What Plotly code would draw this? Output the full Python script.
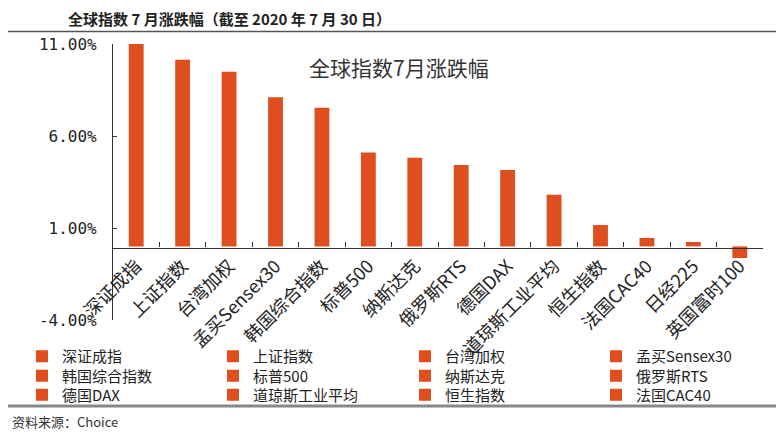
import plotly.graph_objects as go

categories = ["深证成指", "上证指数", "台湾加权", "孟买Sensex30", "韩国综合指数", "标普500",
              "纳斯达克", "俄罗斯RTS", "德国DAX", "道琼斯工业平均", "恒生指数", "法国CAC40",
              "日经225", "英国富时100"]
values = [11.02, 10.15, 9.49, 8.10, 7.54, 5.11, 4.82, 4.42, 4.15, 2.81, 1.16, 0.46, 0.24, -0.63]
ytick_vals = [11, 6, 1, -4]
ytick_text = ["11.00%", "6.00%", "1.00%", "-4.00%"]
legend_count = 12

title_text = "全球指数 7 月涨跌幅（截至 2020 年 7 月 30 日）"
inner_title = "全球指数7月涨跌幅"
source_text = "资料来源：Choice"

BAR = "#DF4E1E"
OFF = 8  # page body margin in the browser
W_FIG, H_FIG = 784 - OFF, 438 - OFF
# plot area in screenshot pixels
L, R, T, B = 113 - OFF, 763 - OFF, 44 - OFF, 320 - OFF
PW, PH = R - L, B - T


def px_x(p):
    return (p - OFF - L) / PW


def px_y(p):
    return (B - (p - OFF)) / PH


fig = go.Figure()

col_left = [22, 213, 405, 596]
row_mid = [356.5, 376, 395]

for i, (c, v) in enumerate(zip(categories, values)):
    in_legend = i < legend_count
    lid = "legend" if i == 0 else f"legend{i + 1}"
    fig.add_trace(go.Bar(
        x=[c], y=[v], name=c, width=0.32,
        marker=dict(color=BAR, line=dict(width=0)),
        showlegend=in_legend,
        legend=lid if in_legend else None,
    ))

layout_legends = {}
for i in range(legend_count):
    lid = "legend" if i == 0 else f"legend{i + 1}"
    r, cidx = divmod(i, 4)
    layout_legends[lid] = dict(
        orientation="h",
        xref="container", yref="container",
        x=(col_left[cidx] - OFF) / W_FIG, xanchor="left",
        y=1 - (row_mid[r] - OFF) / H_FIG, yanchor="middle",
        font=dict(family="Noto Sans CJK SC", size=15, color="#222"),
        bgcolor="rgba(0,0,0,0)", borderwidth=0,
        itemclick=False, itemdoubleclick=False,
    )

fig.update_layout(
    width=W_FIG, height=H_FIG,
    margin=dict(l=L, r=W_FIG - R, t=T, b=H_FIG - B, autoexpand=False),
    paper_bgcolor="white", plot_bgcolor="white",
    barmode="overlay",
    font=dict(family="Noto Sans CJK SC", color="#222"),
    **layout_legends,
)

fig.update_xaxes(
    type="category", categoryorder="array", categoryarray=categories,
    anchor="free", position=px_y(247.5),
    showline=True, linecolor="#333", linewidth=1.2,
    ticks="inside", ticklen=5, tickcolor="#333", tickwidth=1.2,
    tickson="boundaries", tickangle=-45,
    tickfont=dict(family="Noto Sans CJK SC", size=18, color="#222"),
    showgrid=False, zeroline=False,
)

fig.update_yaxes(
    range=[-4, 11], tickvals=ytick_vals, ticktext=ytick_text,
    showline=True, linecolor="#333", linewidth=1.2,
    ticks="inside", ticklen=4, tickcolor="#333", tickwidth=1.2,
    tickfont=dict(family="DejaVu Sans Mono", size=16, color="#222"),
    ticklabelstandoff=12,
    showgrid=False, zeroline=False,
)

fig.add_shape(type="line", xref="paper", yref="paper",
              x0=px_x(OFF), x1=px_x(784), y0=px_y(31.5), y1=px_y(31.5),
              line=dict(color="#555", width=1.5))
fig.add_shape(type="line", xref="paper", yref="paper",
              x0=px_x(OFF), x1=px_x(784), y0=px_y(406), y1=px_y(406),
              line=dict(color="#888", width=3))

fig.add_annotation(text="<b>" + title_text + "</b>", xref="paper", yref="paper",
                   x=px_x(229), y=px_y(18.5), xanchor="center", yanchor="middle",
                   borderpad=0,
                   showarrow=False, font=dict(family="Noto Sans CJK SC", size=15, color="#222"))
fig.add_annotation(text=inner_title, xref="paper", yref="paper",
                   x=px_x(399), y=px_y(67), xanchor="center", yanchor="middle",
                   showarrow=False, font=dict(family="Noto Sans CJK SC", size=21, color="#333"))
fig.add_annotation(text=source_text, xref="paper", yref="paper",
                   x=px_x(10), y=px_y(422), xanchor="left", yanchor="middle",
                   showarrow=False, font=dict(family="Noto Sans CJK SC", size=13, color="#333"))

fig.write_html("out.html")
